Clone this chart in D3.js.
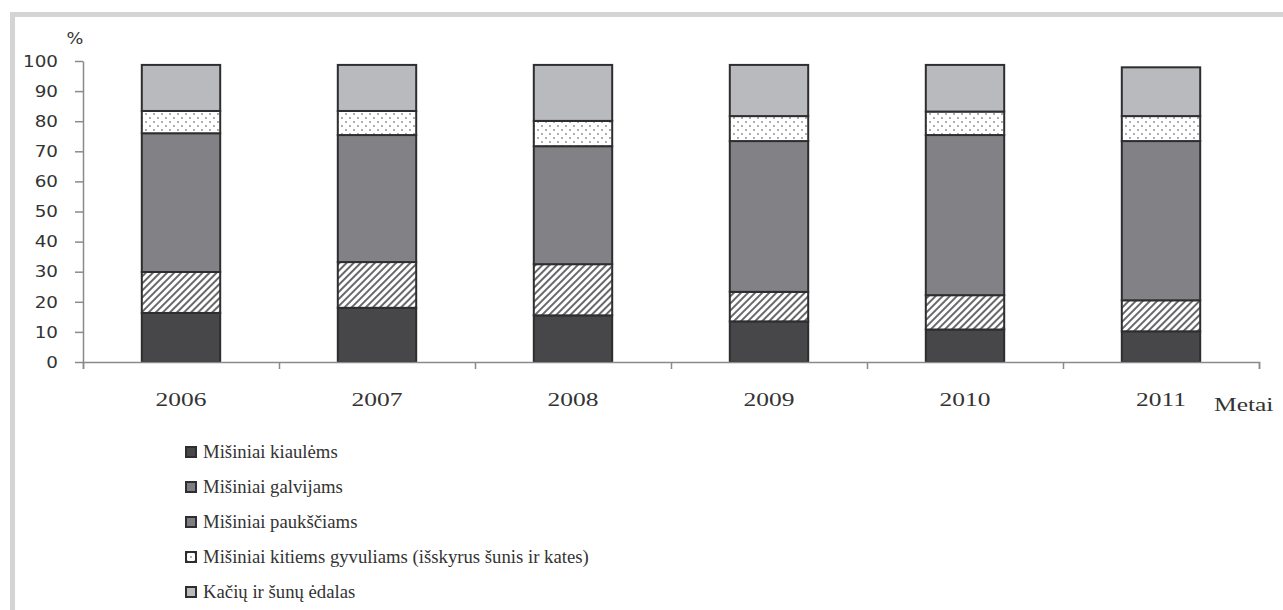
<!DOCTYPE html>
<html>
<head>
<meta charset="utf-8">
<script src="https://cdn.jsdelivr.net/npm/d3@7"></script>
<style>
  html, body { margin: 0; padding: 0; background: #fff; }
  svg { display: block; }
  .serif { font-family: "Liberation Serif", "Times New Roman", Tinos, "Nimbus Roman", "DejaVu Serif", serif; }
  .sans { font-family: "DejaVu Sans", Verdana, sans-serif; }
</style>
</head>
<body>
<svg id="chart" width="1283" height="610"></svg>
<script>
const years = ["2006", "2007", "2008", "2009", "2010", "2011"];
const seriesNames = [
  "Mišiniai kiaulėms",
  "Mišiniai galvijams",
  "Mišiniai paukščiams",
  "Mišiniai kitiems gyvuliams (išskyrus šunis ir kates)",
  "Kačių ir šunų ėdalas"
];
const kiaulems   = [16.3, 18.0, 15.5, 13.5, 10.8, 10.2];
const galvijams  = [13.6, 15.2, 17.0,  9.8, 11.4, 10.3];
const pauksciams = [46.1, 42.2, 39.2, 50.1, 53.2, 52.9];
const kitiems    = [ 7.4,  8.0,  8.4,  8.3,  7.8,  8.3];
const kaciu      = [15.3, 15.3, 18.6, 17.0, 15.5, 16.2];
const yTicks = [0, 10, 20, 30, 40, 50, 60, 70, 80, 90, 100];
const yUnit = "%";
const xUnit = "Metai";

const seriesValues = [kiaulems, galvijams, pauksciams, kitiems, kaciu];
const keys = ["k0", "k1", "k2", "k3", "k4"];
const table = years.map((y, i) => {
  const row = { year: y };
  keys.forEach((k, j) => row[k] = seriesValues[j][i]);
  return row;
});

const svg = d3.select("#chart");
const defs = svg.append("defs");

const hatch = defs.append("pattern")
  .attr("id", "hatch").attr("patternUnits", "userSpaceOnUse")
  .attr("width", 5).attr("height", 5)
  .attr("patternTransform", "rotate(45)");
hatch.append("rect").attr("width", 5).attr("height", 5).attr("fill", "#fff");
hatch.append("line").attr("x1", 1).attr("y1", 0).attr("x2", 1).attr("y2", 5)
  .attr("stroke", "#58585b").attr("stroke-width", 1.8);

const dots = defs.append("pattern")
  .attr("id", "dots").attr("patternUnits", "userSpaceOnUse")
  .attr("width", 8).attr("height", 8);
dots.append("rect").attr("width", 8).attr("height", 8).attr("fill", "#fff");
dots.append("circle").attr("cx", 2).attr("cy", 2).attr("r", 0.9).attr("fill", "#8a8a8a");
dots.append("circle").attr("cx", 6).attr("cy", 6).attr("r", 0.9).attr("fill", "#8a8a8a");

const fills = ["#47474a", "url(#hatch)", "#828286", "url(#dots)", "#b9babe"];
const legendFills = ["#47474a", "#7e7e82", "#7e7e82", "url(#dots)", "#b9babe"];

// frame
svg.append("rect").attr("x", 10).attr("y", 12).attr("width", 1290).attr("height", 5).attr("fill", "#d4d4d4");
svg.append("rect").attr("x", 10).attr("y", 12).attr("width", 5).attr("height", 610).attr("fill", "#d4d4d4");

const x0 = 83, x1 = 1259;
const x = d3.scaleBand().domain(years).range([x0, x1]).paddingInner(0.6).paddingOuter(0.3);
const y = d3.scaleLinear().domain([0, 100]).range([362, 61]);

const stacked = d3.stack().keys(keys)(table);

const layers = svg.append("g").selectAll("g").data(stacked).join("g")
  .attr("fill", (d, i) => fills[i]);
layers.selectAll("rect").data(d => d).join("rect")
  .attr("x", d => x(d.data.year))
  .attr("width", x.bandwidth())
  .attr("y", d => y(d[1]))
  .attr("height", d => y(d[0]) - y(d[1]))
  .attr("stroke", "#2e2e30")
  .attr("stroke-width", 2);

const axisColor = "#8a8a8a";
const textColor = "#333";

function fitWidth(sel, target) {
  let w = 0;
  sel.each(function () { w = Math.max(w, this.getComputedTextLength()); });
  return w > 0 ? target / w : 1;
}

// y axis
const yAxis = svg.append("g").attr("transform", `translate(${x0},0)`)
  .call(d3.axisLeft(y).tickValues(yTicks).tickSize(8).tickSizeOuter(0).tickPadding(0));
yAxis.select(".domain").attr("stroke", axisColor).attr("stroke-width", 1.5);
yAxis.selectAll(".tick line").attr("stroke", axisColor).attr("stroke-width", 1.5);
const yTxt = yAxis.selectAll(".tick text")
  .attr("class", "sans").attr("x", 0)
  .attr("font-size", 16.5).attr("fill", textColor);
const ys = fitWidth(yTxt, 35);
yTxt.attr("transform", `translate(-25,0) scale(${ys},1)`);

svg.append("text").attr("class", "sans")
  .attr("transform", `translate(75,44) scale(${ys},1)`)
  .attr("text-anchor", "middle")
  .attr("font-size", 16).attr("fill", textColor).text(yUnit);

// x axis boundary ticks
const xb = d3.scaleLinear().domain([0, years.length]).range([x0, x1]);
const xAxisB = svg.append("g").attr("transform", `translate(0,${y(0)})`)
  .call(d3.axisBottom(xb).ticks(years.length).tickFormat("").tickSize(7).tickSizeOuter(7));
xAxisB.select(".domain").attr("stroke", axisColor).attr("stroke-width", 1.5);
xAxisB.selectAll(".tick line").attr("stroke", axisColor).attr("stroke-width", 1.5);

// x labels
const xAxisL = svg.append("g").attr("transform", `translate(0,${y(0)})`)
  .call(d3.axisBottom(x).tickSize(0).tickPadding(0));
xAxisL.select(".domain").remove();
const xTxt = xAxisL.selectAll(".tick text")
  .attr("class", "serif")
  .attr("y", 0).attr("dy", 0)
  .attr("font-size", 19).attr("fill", textColor);
const xs = fitWidth(xTxt, 51);
xTxt.attr("transform", `translate(0,44) scale(${xs},1)`);

svg.append("text").attr("class", "serif")
  .attr("transform", `translate(1214,411) scale(${xs},1)`)
  .attr("font-size", 19).attr("fill", textColor).text(xUnit);

// legend
const legend = svg.append("g").attr("transform", "translate(185,446)");
const items = legend.selectAll("g").data(seriesNames).join("g")
  .attr("transform", (d, i) => `translate(0,${i * 35})`);
items.append("rect").attr("x", 1).attr("y", 1).attr("width", 10).attr("height", 10)
  .attr("fill", (d, i) => legendFills[i])
  .attr("stroke", "#2e2e30").attr("stroke-width", 2);
const lTxt = items.append("text")
  .attr("class", "serif")
  .attr("font-size", 18).attr("fill", textColor)
  .text(d => d);
const ls = fitWidth(lTxt, 386);
lTxt.attr("transform", `translate(18,12) scale(${ls},1)`);
</script>
</body>
</html>
